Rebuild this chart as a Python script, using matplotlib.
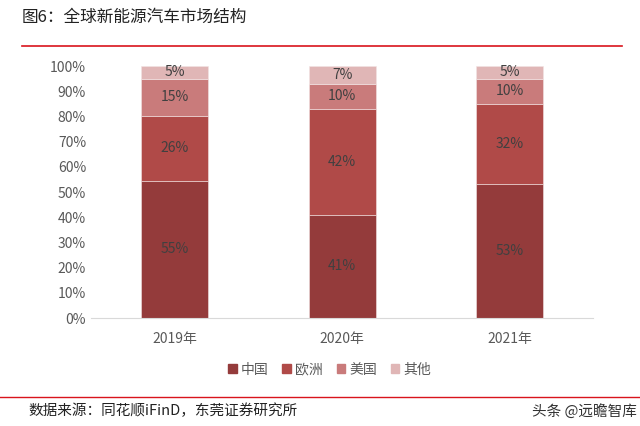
import numpy as np
import matplotlib.pyplot as plt
from matplotlib.lines import Line2D

plt.rcParams['font.family'] = ['Noto Sans CJK SC', 'DejaVu Sans']

# 数据
years = ['2019年', '2020年', '2021年']
series = ['中国', '欧洲', '美国', '其他']
china = [55, 41, 53]
europe = [26, 42, 32]
usa = [15, 10, 10]
other = [5, 7, 5]
colors = ['#943b3b', '#b04a48', '#c97b7b', '#e0b6b6']

values = np.array([china, europe, usa, other], dtype=float)
shares = values / values.sum(axis=0) * 100

fig = plt.figure(figsize=(6.4, 4.26), dpi=100)
ax = fig.add_axes([0.142, 0.2535, 0.785, 0.5915])

x = np.arange(len(years))
bottom = np.zeros(len(years))
for i, name in enumerate(series):
    ax.bar(x, shares[i], 0.4, bottom=bottom, color=colors[i], label=name,
           edgecolor='#f2e4e4', linewidth=0.4)
    for j in range(len(years)):
        ax.text(x[j], bottom[j] + shares[i][j] / 2, f'{int(values[i][j])}%',
                ha='center', va='center', fontsize=10, color='#404040')
    bottom += shares[i]

ax.set_xlim(-0.5, 2.5)
ax.set_ylim(0, 100)
ax.set_yticks(np.arange(0, 101, 10))
ax.set_yticklabels([f'{v}%' for v in range(0, 101, 10)])
ax.set_xticks(x)
ax.set_xticklabels(years)
ax.tick_params(axis='both', length=0, labelsize=10, colors='#595959')
ax.tick_params(axis='x', pad=10)
for s in ['top', 'right', 'left']:
    ax.spines[s].set_visible(False)
ax.spines['bottom'].set_color('#d9d9d9')

handles = [plt.Rectangle((0, 0), 1, 1, color=c) for c in colors]
fig.legend(handles, series, loc='center', bbox_to_anchor=(0.515, 0.132), ncol=4,
           frameon=False, fontsize=10, handlelength=0.6, handleheight=0.6,
           handletextpad=0.3, columnspacing=1.0, labelcolor='#595959')

# 标题和来源
fig.text(0.034, 0.958, '图6：全球新能源汽车市场结构', fontsize=12, color='#222222',
         va='center', weight='medium')
fig.add_artist(Line2D([0.034, 0.972], [0.892, 0.892], color='#d9141c', lw=1.2))
fig.add_artist(Line2D([0.0, 0.998], [0.068, 0.068], color='#d9141c', lw=1.0))
fig.text(0.045, 0.035, '数据来源：同花顺iFinD，东莞证券研究所', fontsize=10.5,
         color='#222222', va='center', weight='medium')
fig.text(0.995, 0.035, '头条 @远瞻智库', fontsize=10.5, color='#333333',
         va='center', ha='right')

fig.savefig('out.png', dpi=100)
